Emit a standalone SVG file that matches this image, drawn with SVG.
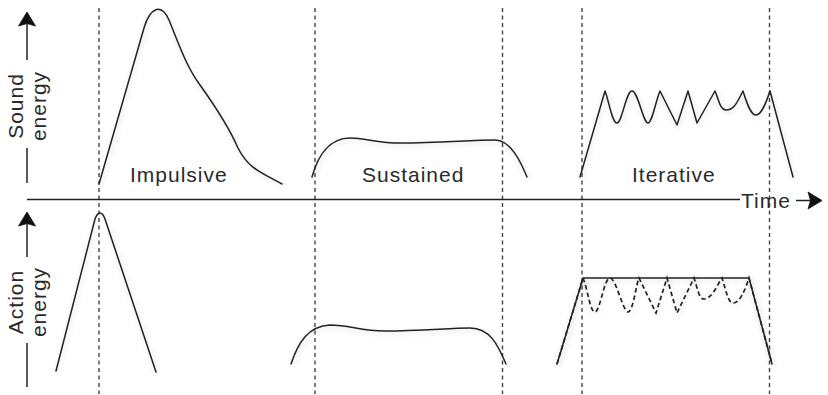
<svg xmlns="http://www.w3.org/2000/svg" width="828" height="395" viewBox="0 0 828 395">
<style>
.lbl{font-family:"Liberation Sans",Arial,sans-serif;font-size:21px;fill:#2a2a2a;letter-spacing:1px}
.ax{stroke:#222;stroke-width:1.5;fill:none}
.guide{stroke:#444;stroke-width:1.4;stroke-dasharray:4 3.5;fill:none}
.curve{stroke:#222;stroke-width:1.5;fill:none;stroke-linejoin:round;stroke-linecap:round;filter:url(#glow)}
.dcurve{stroke:#222;stroke-width:1.7;fill:none;stroke-dasharray:4.5 3;filter:url(#glow)}
.head{fill:#111;stroke:#111;stroke-width:0.8;stroke-linejoin:round}
</style>
<defs>
<filter id="glow" x="-10%" y="-10%" width="120%" height="130%">
<feGaussianBlur in="SourceAlpha" stdDeviation="3"/>
<feOffset dx="1" dy="2" result="b"/>
<feComponentTransfer><feFuncA type="linear" slope="0.18"/></feComponentTransfer>
<feMerge><feMergeNode/><feMergeNode in="SourceGraphic"/></feMerge>
</filter>
<path id="ah" d="M0,0 L8.5,14 L0,11.5 L-8.5,14 Z"/>
</defs>
<g id="guides">
<line class="guide" x1="99" y1="8" x2="99" y2="394"/>
<line class="guide" x1="315" y1="8" x2="315" y2="394"/>
<line class="guide" x1="502.5" y1="8" x2="502.5" y2="394"/>
<line class="guide" x1="582" y1="8" x2="582" y2="394"/>
<line class="guide" x1="769.5" y1="8" x2="769.5" y2="394"/>
</g>
<g id="axes">
<line class="ax" x1="27" y1="199.5" x2="740" y2="199.5"/>
<line class="ax" x1="796" y1="200.5" x2="814" y2="200.5"/>
<use href="#ah" class="head" transform="translate(822,200.5) rotate(90)"/>
<line class="ax" x1="27" y1="22" x2="27" y2="60"/>
<line class="ax" x1="27" y1="148" x2="27" y2="183"/>
<use href="#ah" class="head" transform="translate(27,12)"/>
<line class="ax" x1="27" y1="222" x2="27" y2="257"/>
<line class="ax" x1="27" y1="343" x2="27" y2="387"/>
<use href="#ah" class="head" transform="translate(27,212)"/>
</g>
<g id="axis-labels">
<text class="lbl" transform="translate(23,106) rotate(-90)" text-anchor="middle">Sound</text>
<text class="lbl" transform="translate(46,106) rotate(-90)" text-anchor="middle">energy</text>
<text class="lbl" transform="translate(23,302) rotate(-90)" text-anchor="middle">Action</text>
<text class="lbl" transform="translate(46,302) rotate(-90)" text-anchor="middle">energy</text>
<text class="lbl" x="741" y="208" letter-spacing="0.5">Time</text>
</g>
<g id="impulsive">
<path class="curve" d="M99,184 L144,28 C150,8 161,2 169,20 C178,42 186,66 200,85 C215,106 228,125 238,148 C248,168 260,172 282,184"/>
<path class="curve" d="M56,371 L95,219 C98,211 102,211 105,219 L156,372"/>
<text class="lbl" x="130" y="182">Impulsive</text>
</g>
<g id="sustained">
<path class="curve" d="M312,177 C318,155 330,138 350,138 C365,138 378,143 400,143 C440,143 470,140 495,140 C510,140 520,160 527,177"/>
<path class="curve" d="M291,364 C298,343 308,326 330,325 C350,325 360,331 385,331 C420,331 450,328 470,328 C490,328 498,345 506,364"/>
<text class="lbl" x="362" y="182">Sustained</text>
</g>
<g id="iterative">
<path class="curve" d="M580,177 L605,91 C609,101 612,123 617,123 C622,123 626,91 632,91 C638,91 643,123 648,123 C652,123 656,100 660,91 L677,125 L688,91 L697,123 L715,91 C719,100 720,110 726,110 C735,110 738,100 743,91 C746,100 750,115 756,115 C762,115 767,100 770,91 L793,177"/>
<path class="curve" d="M557,364 L583,278 L749,278 L772,364"/>
<path class="dcurve" d="M557,364 L583,278 C588,290 590,312 595,312 C600,312 604,278 610,278 C616,278 623,312 628,312 C633,312 636,285 639,278 L656,313 L667,278 L677,313 L694,278 C698,290 699,299 704,299 C712,299 717,285 722,278 C726,290 728,303 733,303 C740,303 745,290 749,278 L772,364"/>
<text class="lbl" x="632" y="182">Iterative</text>
</g>
</svg>
